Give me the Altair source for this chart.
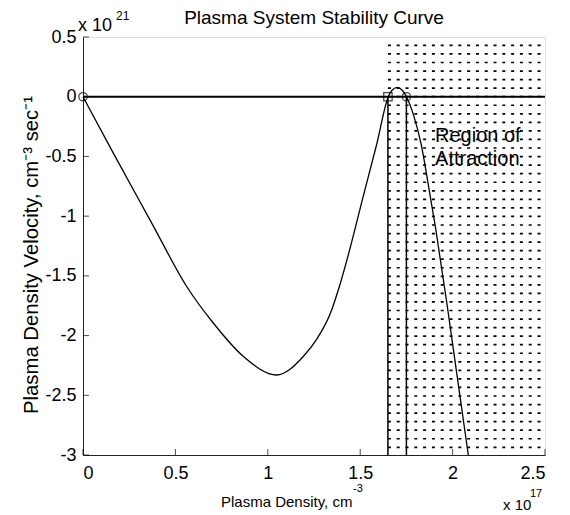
import altair as alt
import pandas as pd

# ---- data ----
curve_x = [0.0, 0.164, 0.372, 0.561, 0.705, 0.868, 1.048, 1.192, 1.265, 1.337, 1.391,
           1.445, 1.517, 1.589, 1.652, 1.67, 1.70, 1.73, 1.75, 1.79, 1.83, 1.87,
           1.91, 1.97, 2.03, 2.085]
curve_y = [0.0, -0.472, -1.058, -1.589, -1.895, -2.175, -2.33, -2.175, -2.03, -1.82, -1.57,
           -1.27, -0.83, -0.40, 0.0, 0.05, 0.078, 0.05, 0.0, -0.16, -0.40, -0.75,
           -1.12, -1.74, -2.40, -3.0]

circle_x = [0.0, 1.75]
circle_y = [0.0, 0.0]
square_x = [1.65]
square_y = [0.0]

region_lo = 1.65
region_hi = 2.5
unstable_x = 1.65
stable_x = 1.75

x_ticks = [0, 0.5, 1, 1.5, 2, 2.5]
y_ticks = [0.5, 0, -0.5, -1, -1.5, -2, -2.5, -3]

region_label_x = [1.905, 1.905]
region_label_y = [-0.375, -0.57]
region_label_t = ["Region of", "Attraction"]

# hatch rows of the shaded region (decorative pattern)
hatch_y = [k * 0.0716 for k in range(-41, 7)]

W, H = 462, 418
FONT = "Liberation Sans"

xs = alt.Scale(domain=[0, 2.5], nice=False, zero=False)
ys = alt.Scale(domain=[-3, 0.5], nice=False, zero=False)

label_expr = "datum.value < 0 ? '-' + format(-datum.value, '') : format(datum.value, '')"

curve_df = pd.DataFrame({"x": curve_x, "y": curve_y})

base_axes = alt.Chart(curve_df).mark_line(color="black", strokeWidth=1.3, interpolate="monotone").encode(
    x=alt.X("x:Q", scale=xs, title=None,
            axis=alt.Axis(values=x_ticks, ticks=False, tickSize=0, labelPadding=9,
                          labelFontSize=18, labelFont=FONT, labelColor="black",
                          domainColor="#222", grid=False, labelExpr=label_expr)),
    y=alt.Y("y:Q", scale=ys, title=None,
            axis=alt.Axis(values=y_ticks, ticks=False, tickSize=0, labelPadding=7,
                          labelFontSize=18, labelFont=FONT, labelColor="black",
                          domainColor="#222", grid=False, labelExpr=label_expr)),
)

hatch = alt.Chart(pd.DataFrame({"y": hatch_y})).mark_rule(
    color="black", strokeWidth=1.7, strokeDash=[3, 5.8]
).encode(x=alt.datum(region_lo, scale=xs), x2=alt.datum(region_hi), y=alt.Y("y:Q", scale=ys))

zero_line = alt.Chart(pd.DataFrame({"y": [0.0]})).mark_rule(color="black", strokeWidth=2).encode(
    x=alt.datum(0, scale=xs), x2=alt.datum(2.5), y=alt.Y("y:Q", scale=ys)
)

vlines = alt.Chart(pd.DataFrame({"x": [unstable_x, stable_x]})).mark_rule(color="black", strokeWidth=1.5).encode(
    x=alt.X("x:Q", scale=xs), y=alt.datum(0, scale=ys), y2=alt.datum(-3)
)

circles = alt.Chart(pd.DataFrame({"x": circle_x, "y": circle_y})).mark_point(
    shape="circle", filled=False, color="black", size=70, strokeWidth=1.3
).encode(x=alt.X("x:Q", scale=xs), y=alt.Y("y:Q", scale=ys))

squares = alt.Chart(pd.DataFrame({"x": square_x, "y": square_y})).mark_point(
    shape="square", filled=False, color="black", size=70, strokeWidth=1.3
).encode(x=alt.X("x:Q", scale=xs), y=alt.Y("y:Q", scale=ys))

xtick_marks = alt.Chart(pd.DataFrame({"x": x_ticks})).mark_tick(
    color="black", size=6, thickness=1
).encode(x=alt.X("x:Q", scale=xs), y=alt.value(H - 3))

ytick_marks = alt.Chart(pd.DataFrame({"y": y_ticks})).mark_tick(
    color="black", size=6, thickness=1
).encode(y=alt.Y("y:Q", scale=ys), x=alt.value(3))

region_text = alt.Chart(pd.DataFrame({"x": region_label_x, "y": region_label_y,
                                      "t": region_label_t})).mark_text(
    align="left", baseline="alphabetic", fontSize=20, font=FONT, color="black"
).encode(x=alt.X("x:Q", scale=xs), y=alt.Y("y:Q", scale=ys), text="t:N")


def label(txt, px, py, size, align="left", angle=0, baseline="alphabetic"):
    return alt.Chart(pd.DataFrame({"t": [txt]})).mark_text(
        align=align, baseline=baseline, fontSize=size, font=FONT, color="black", angle=angle
    ).encode(x=alt.value(px), y=alt.value(py), text="t:N")


texts = [
    label("Plasma System Stability Curve", 231, -13, 19, align="center"),
    label("x 10", -5, -6, 18),
    label("21", 33, -17, 12),
    label("Plasma Density, cm", 138, 470, 15),
    label("-3", 270, 455, 11),
    label("x 10", 420, 473, 15),
    label("17", 447, 460, 11),
    label("Plasma Density Velocity, cm\u207b\u00b3 sec\u207b\u00b9", -45, 218, 20.3,
          align="center", angle=270),
]

chart = alt.layer(
    hatch, base_axes, zero_line, vlines, circles, squares, xtick_marks, ytick_marks, region_text, *texts
).properties(
    width=W, height=H,
    autosize=alt.AutoSizeParams(type="none"),
    padding={"left": 75, "top": 29, "right": 17, "bottom": 58},
).configure_view(strokeWidth=0).configure(background="white")

chart.save("out.html", embed_options={"renderer": "svg", "actions": False})
